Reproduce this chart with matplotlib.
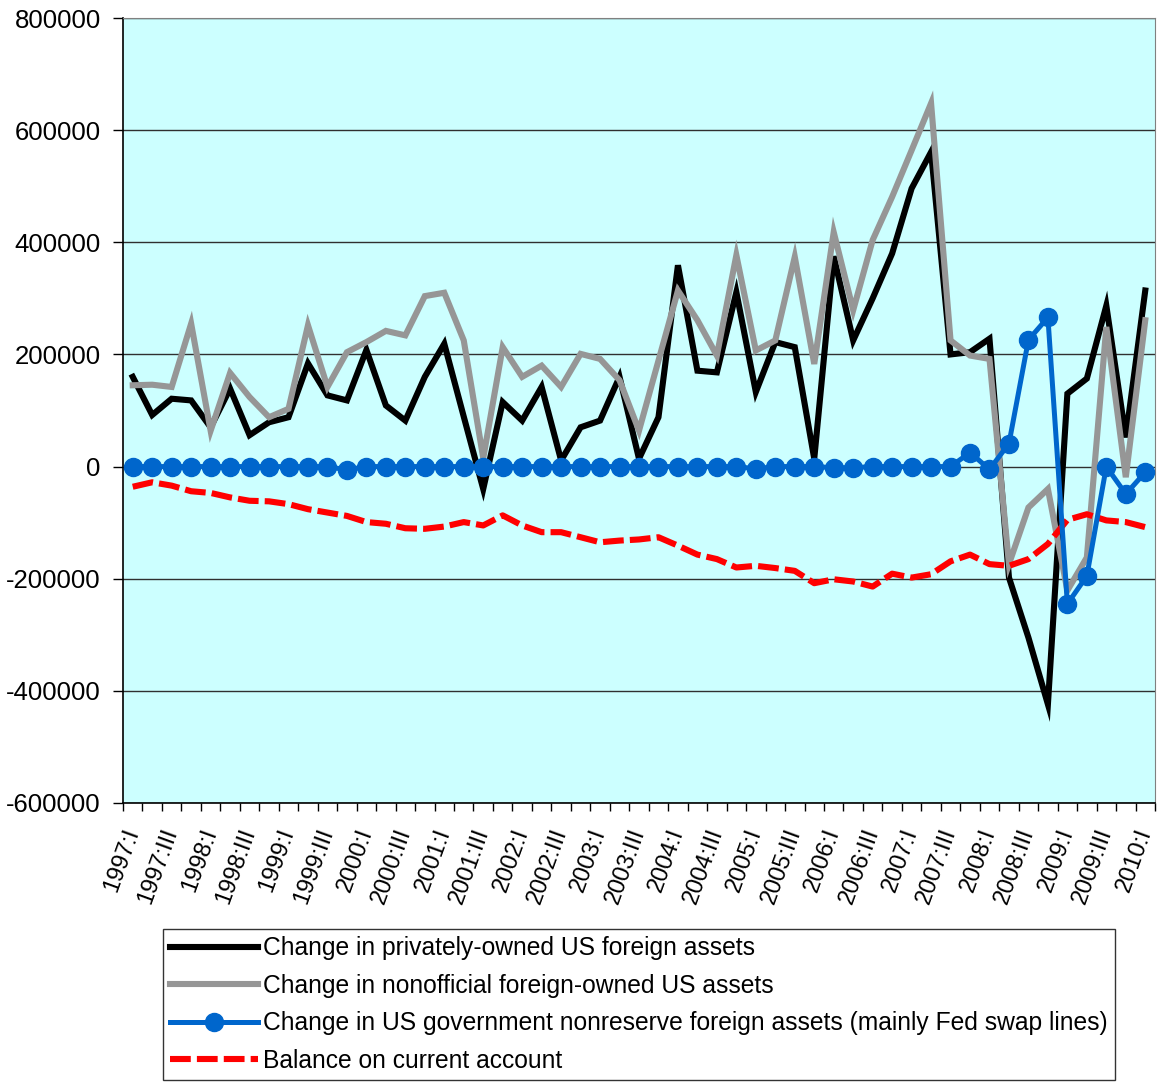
import matplotlib.pyplot as plt
import numpy as np

plt.rcParams['font.family'] = ['Liberation Sans', 'DejaVu Sans']

# quarters 1997:I .. 2010:I
roman = ['I', 'II', 'III', 'IV']
quarters = ['%d:%s' % (1997 + i // 4, roman[i % 4]) for i in range(53)]

private_assets = [160000, 92000, 121000, 118000, 70000, 139000, 56000, 79000, 88000, 184000,
                  127000, 118000, 208000, 109000, 82000, 160000, 219000, 89000, -40000, 115000,
                  82000, 142000, 11000, 70000, 82000, 160000, 14000, 88000, 359000, 171000,
                  168000, 311000, 133000, 222000, 213000, 14000, 375000, 225000, 300000, 380000,
                  496000, 561000, 200000, 204000, 228000, -198000, -305000, -424000, 130000, 157000,
                  287000, 52000, 314000]

foreign_owned = [145000, 146000, 142000, 255000, 64000, 167000, 124000, 88000, 103000, 252000,
                 142000, 204000, 222000, 242000, 234000, 304000, 310000, 225000, 15000, 213000,
                 160000, 180000, 142000, 201000, 192000, 154000, 64000, 189000, 314000, 261000,
                 198000, 377000, 207000, 225000, 374000, 183000, 418000, 279000, 404000, 481000,
                 564000, 648000, 225000, 198000, 192000, -174000, -73000, -40000, -221000, -162000,
                 249000, -19000, 261000]

fed_swaps = [0, 0, 0, 0, 0, 0, 0, 0, 0, 0,
             0, -6000, 0, 0, 0, 0, 0, 0, 0, 0,
             0, 0, 0, 0, 0, 0, 0, 0, 0, 0,
             0, 0, -4000, 0, 0, 0, -2000, -2000, 0, 0,
             0, 0, 0, 25000, -5000, 41000, 226000, 266000, -245000, -195000,
             0, -49000, -10000]

current_account = [-36000, -28000, -34000, -44000, -47000, -55000, -61000, -62000, -67000, -76000,
                   -82000, -88000, -99000, -102000, -110000, -111000, -107000, -99000, -105000, -87000,
                   -105000, -117000, -117000, -126000, -135000, -132000, -130000, -126000, -141000, -157000,
                   -165000, -180000, -177000, -181000, -186000, -208000, -201000, -205000, -214000, -191000,
                   -198000, -192000, -169000, -157000, -174000, -177000, -165000, -138000, -95000, -85000,
                   -96000, -99000, -108000]

x = np.arange(len(quarters))

fig = plt.figure(figsize=(11.62, 10.85), dpi=100)
ax = fig.add_axes([123 / 1162, 1 - 803 / 1085, 1032 / 1162, 785 / 1085])
ax.set_facecolor('#CCFFFF')

l1, = ax.plot(x, private_assets, color='black', lw=4.4, solid_joinstyle='miter', zorder=3,
              label='Change in privately-owned US foreign assets')
l2, = ax.plot(x, foreign_owned, color='#969696', lw=4.4, solid_joinstyle='miter', zorder=4,
              label='Change in nonofficial foreign-owned US assets')
l4, = ax.plot(x, current_account, color='#FF0000', lw=4.4, dashes=(3.4, 1.0),
              dash_capstyle='butt', zorder=5, label='Balance on current account')
l3, = ax.plot(x, fed_swaps, color='#0066CC', lw=3.6, marker='o', markersize=13, zorder=6,
              label='Change in US government nonreserve foreign assets (mainly Fed swap lines)')

ax.set_xlim(-0.5, len(quarters) - 0.5)
ax.set_ylim(-600000, 800000)
ax.set_yticks(np.arange(-600000, 800001, 200000))
ax.set_yticklabels(['%d' % v for v in np.arange(-600000, 800001, 200000)], fontsize=18.5)
ax.yaxis.grid(True, color='#303030', lw=1)
ax.set_axisbelow(True)

# tick marks between categories, labels on every second quarter
ax.set_xticks(np.arange(-0.5, len(quarters), 1.0))
ax.set_xticklabels([])
ax.set_xticks(x[::2], minor=True)
ax.set_xticklabels(quarters[::2], minor=True, fontsize=17, rotation=70,
                   ha='right', va='center', rotation_mode='anchor')
ax.tick_params(axis='x', which='major', direction='out', length=6, width=1, color='black')
ax.tick_params(axis='x', which='minor', length=0, pad=19)
ax.tick_params(axis='y', direction='out', length=7, width=1, color='black', pad=9)

for s in ['top', 'right']:
    ax.spines[s].set_color('#808080')
for s in ['left', 'bottom']:
    ax.spines[s].set_color('black')
    ax.spines[s].set_linewidth(1.2)

leg = fig.legend(handles=[l1, l2, l3, l4], loc='upper left',
                 bbox_to_anchor=(163 / 1162, 1 - 929 / 1085), fontsize=17.7,
                 frameon=True, fancybox=False, edgecolor='black', handlelength=3.55,
                 handletextpad=0.2, labelspacing=0.55, borderpad=0.3, borderaxespad=0)
leg.get_frame().set_linewidth(1)

fig.savefig('out.png', dpi=100, facecolor='white')
